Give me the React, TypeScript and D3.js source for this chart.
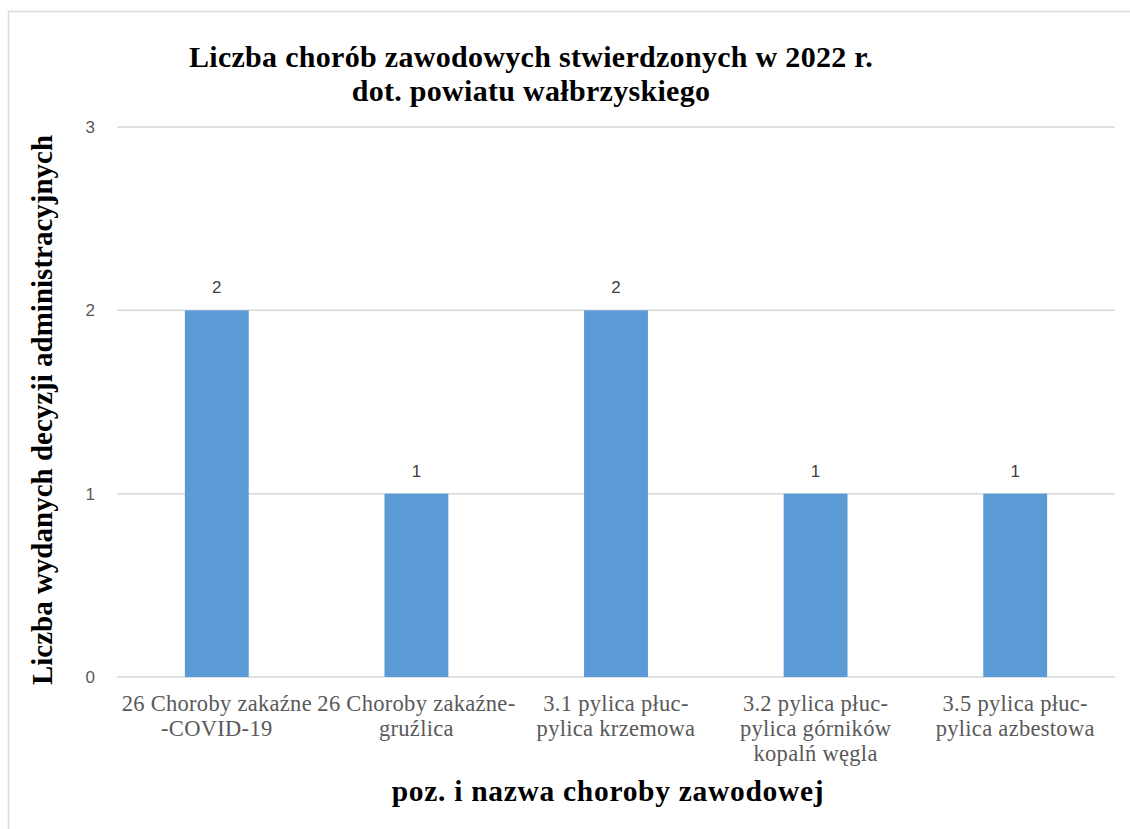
import React from "react";
import * as d3 from "d3";

const categories: string[][] = [
  ["26 Choroby zakaźne", "-COVID-19"],
  ["26 Choroby zakaźne-", "gruźlica"],
  ["3.1 pylica płuc-", "pylica krzemowa"],
  ["3.2 pylica płuc-", "pylica górników", "kopalń węgla"],
  ["3.5 pylica płuc-", "pylica azbestowa"],
];
const values: number[] = [2, 1, 2, 1, 1];
const yTicks: number[] = [0, 1, 2, 3];
const titleLines: string[] = [
  "Liczba chorób zawodowych stwierdzonych w 2022 r.",
  "dot. powiatu wałbrzyskiego",
];
const yTitle = "Liczba wydanych decyzji administracyjnych";
const xTitle = "poz. i nazwa choroby zawodowej";

const W = 1130;
const H = 829;
const plot = { left: 117, right: 1115, top: 127, bottom: 677 };
const serif = "'Liberation Serif', 'Times New Roman', serif";
const sans = "'Liberation Sans', Arial, sans-serif";

export default function App() {
  const ids = categories.map((_, i) => String(i));
  const x = d3
    .scaleBand<string>()
    .domain(ids)
    .range([plot.left, plot.right])
    .paddingInner(0.68)
    .paddingOuter(0.34);
  const y = d3.scaleLinear().domain([0, 3]).range([plot.bottom, plot.top]);

  return (
    <svg
      width={W}
      height={H}
      style={{ position: "absolute", left: 0, top: 0, background: "#fff" }}
    >
      <rect x={0} y={0} width={W} height={H} fill="#fff" />
      <rect
        x={8.5}
        y={11.5}
        width={W + 20}
        height={H + 20}
        fill="none"
        stroke="#D9D9D9"
        strokeWidth={1.5}
      />
      {titleLines.map((t, i) => (
        <text
          key={i}
          x={531}
          y={67 + i * 34}
          textAnchor="middle"
          fontFamily={serif}
          fontWeight="bold"
          fontSize={30}
          letterSpacing={0.3}
          fill="#000"
        >
          {t}
        </text>
      ))}
      {yTicks.map((t) => (
        <g key={t}>
          <line
            x1={plot.left}
            x2={plot.right}
            y1={y(t)}
            y2={y(t)}
            stroke="#D9D9D9"
            strokeWidth={1.5}
          />
          <text
            x={95}
            y={y(t)}
            dy="0.35em"
            textAnchor="end"
            fontFamily={sans}
            fontSize={17}
            fill="#595959"
          >
            {t}
          </text>
        </g>
      ))}
      {values.map((v, i) => (
        <g key={i}>
          <rect
            x={x(ids[i])!}
            y={y(v)}
            width={x.bandwidth()}
            height={y(0) - y(v)}
            fill="#5B9BD5"
          />
          <text
            x={x(ids[i])! + x.bandwidth() / 2}
            y={y(v) - 17}
            textAnchor="middle"
            fontFamily={sans}
            fontSize={17}
            fill="#404040"
          >
            {v}
          </text>
        </g>
      ))}
      {categories.map((lines, i) => {
        const cx = x(ids[i])! + x.bandwidth() / 2;
        return (
          <text
            key={i}
            x={cx}
            y={711}
            textAnchor="middle"
            fontFamily={serif}
            fontSize={22.5}
            letterSpacing={0.3}
            fill="#595959"
          >
            {lines.map((l, j) => (
              <tspan key={j} x={cx} dy={j === 0 ? 0 : 25}>
                {l}
              </tspan>
            ))}
          </text>
        );
      })}
      <text
        x={608}
        y={801}
        textAnchor="middle"
        fontFamily={serif}
        fontWeight="bold"
        fontSize={29.5}
        letterSpacing={0.7}
        fill="#000"
      >
        {xTitle}
      </text>
      <text
        transform={`translate(52,410) rotate(-90)`}
        textAnchor="middle"
        fontFamily={serif}
        fontWeight="bold"
        fontSize={29}
        fill="#000"
      >
        {yTitle}
      </text>
    </svg>
  );
}
